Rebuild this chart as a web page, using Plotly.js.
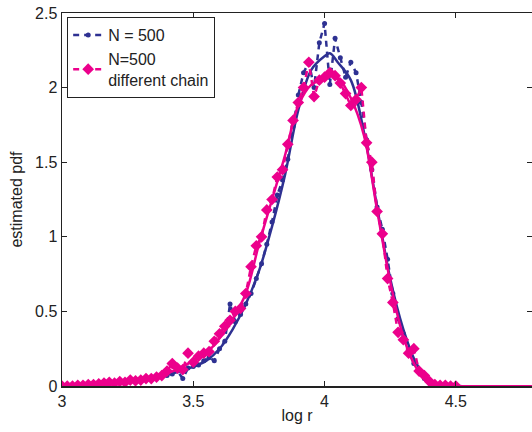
<!DOCTYPE html>
<html>
<head>
<meta charset="utf-8">
<script src="https://cdn.plot.ly/plotly-3.0.1.min.js"></script>
<style>html,body{margin:0;padding:0;background:#fff;}#chart{width:532px;height:432px;}</style>
</head>
<body>
<div id="chart"></div>
<script>
// noisy estimates (x grid 3.00..4.50 step 0.02)
const xNoisy = [3.00,3.02,3.04,3.06,3.08,3.10,3.12,3.14,3.16,3.18,3.20,3.22,3.24,3.26,3.28,3.30,3.32,3.34,3.36,3.38,
  3.40,3.42,3.44,3.46,3.48,3.50,3.52,3.54,3.56,3.58,3.60,3.62,3.64,3.66,3.68,3.70,3.72,3.74,3.76,3.78,
  3.80,3.82,3.84,3.86,3.88,3.90,3.92,3.94,3.96,3.98,4.00,4.02,4.04,4.06,4.08,4.10,4.12,4.14,4.16,4.18,
  4.20,4.22,4.24,4.26,4.28,4.30,4.32,4.34,4.36,4.38,4.40,4.42,4.44,4.46,4.48,4.50];
const blueNoisy = [0,0,0,0.005,0.005,0.01,0.01,0.01,0.015,0.02,0.02,0.025,0.03,0.03,0.035,0.04,0.05,0.045,0.06,0.07,
  0.07,0.08,0.10,0.05,0.12,0.13,0.14,0.17,0.19,0.17,0.25,0.30,0.55,0.43,0.48,0.55,0.62,0.72,0.82,0.95,
  1.10,1.28,1.38,1.52,1.74,1.95,2.10,2.17,2.00,2.30,2.43,2.02,2.33,2.20,2.07,2.17,2.10,1.90,1.65,1.45,
  1.20,1.05,0.85,0.62,0.45,0.35,0.25,0.15,0.10,0.05,0.02,0.01,0.005,0,0,0];
const pinkNoisy = [0,0,0,0.005,0.005,0.01,0.01,0.015,0.02,0.025,0.02,0.03,0.025,0.04,0.035,0.04,0.05,0.05,0.06,0.07,
  0.10,0.15,0.12,0.11,0.22,0.16,0.20,0.22,0.23,0.30,0.35,0.40,0.44,0.50,0.52,0.62,0.80,0.94,1.00,1.18,
  1.25,1.40,1.45,1.62,1.78,1.90,2.00,2.17,1.94,2.05,2.07,2.10,2.08,2.03,1.96,1.88,1.92,2.00,1.63,1.50,
  1.17,1.02,0.72,0.56,0.36,0.31,0.22,0.25,0.10,0.07,0.03,0.01,0.005,0.005,0,0];
// smooth estimates
const xSmooth = [3.00,3.05,3.10,3.15,3.20,3.25,3.30,3.35,3.40,3.45,3.50,3.55,3.60,3.65,3.70,3.75,3.80,3.85,3.90,3.95,
  4.00,4.02,4.05,4.10,4.15,4.20,4.25,4.30,4.35,4.40,4.45,4.50,5.00];
const blueSmooth = [0,0.002,0.006,0.012,0.02,0.03,0.04,0.055,0.075,0.10,0.13,0.17,0.25,0.38,0.55,0.77,1.07,1.42,1.85,2.12,
  2.21,2.23,2.17,2.05,1.70,1.20,0.72,0.38,0.15,0.04,0.005,0,0];
const pinkSmooth = [0,0.003,0.008,0.015,0.022,0.03,0.042,0.055,0.085,0.12,0.17,0.22,0.32,0.45,0.62,0.95,1.25,1.55,1.88,2.02,
  2.06,2.09,2.07,1.93,1.68,1.18,0.70,0.33,0.12,0.03,0.005,0,0];

const BLUE = '#2e3192', PINK = '#ec008c';
const traces = [
  {x: xNoisy, y: blueNoisy, mode: 'lines+markers', name: 'N = 500',
   line: {color: BLUE, width: 2.5, dash: '6px,5px'}, marker: {color: BLUE, size: 5, symbol: 'circle'}},
  {x: xSmooth, y: blueSmooth, mode: 'lines', showlegend: false,
   line: {color: BLUE, width: 2.5, shape: 'spline'}},
  {x: xNoisy, y: pinkNoisy, mode: 'lines+markers', name: 'N=500<br>different chain',
   line: {color: PINK, width: 2.5, dash: '6px,5px'}, marker: {color: PINK, size: 9, symbol: 'diamond'}},
  {x: xSmooth, y: pinkSmooth, mode: 'lines', showlegend: false,
   line: {color: PINK, width: 2.5, shape: 'spline'}}
];
const axFont = {family: 'Liberation Sans, Arial, sans-serif', size: 16, color: '#222'};
const titleFont = {family: 'Liberation Sans, Arial, sans-serif', size: 16, color: '#222'};
const layout = {
  width: 532, height: 432,
  margin: {l: 62, r: 0, t: 13, b: 46},
  paper_bgcolor: '#fff', plot_bgcolor: '#fff',
  showlegend: true,
  legend: {x: 0.011, y: 0.989, xanchor: 'left', yanchor: 'top', bgcolor: '#fff',
    bordercolor: '#222', borderwidth: 1,
    font: {family: 'Liberation Sans, Arial, sans-serif', size: 16, color: '#222'},
    tracegroupgap: 0, itemwidth: 30},
  xaxis: {range: [3, 4.79], tickvals: [3, 3.5, 4, 4.5], ticktext: ['3', '3.5', '4', '4.5'],
    ticks: 'inside', ticklen: 5, tickcolor: '#222', mirror: 'ticks', showline: true,
    linecolor: '#222', linewidth: 1.5, showgrid: false, zeroline: false, tickfont: axFont,
    title: {text: 'log r', font: titleFont, standoff: 1}},
  yaxis: {range: [0, 2.5], tickvals: [0, 0.5, 1, 1.5, 2, 2.5], ticktext: ['0', '0.5', '1', '1.5', '2', '2.5'],
    ticks: 'inside', ticklen: 5, tickcolor: '#222', mirror: 'ticks', showline: true,
    linecolor: '#222', linewidth: 1.5, showgrid: false, zeroline: false, tickfont: axFont,
    title: {text: 'estimated pdf', font: titleFont, standoff: 8}}
};
Plotly.newPlot('chart', traces, layout, {displayModeBar: false, staticPlot: true});
</script>
</body>
</html>
